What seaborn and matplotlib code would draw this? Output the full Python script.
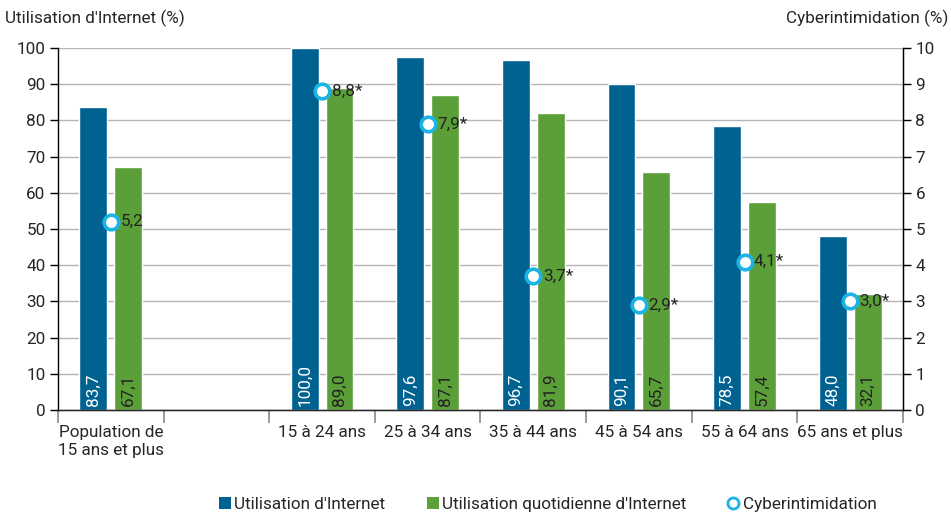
import numpy as np
import pandas as pd
import matplotlib
matplotlib.use("Agg")
import matplotlib.pyplot as plt
from matplotlib.lines import Line2D
from matplotlib.patches import Patch
import seaborn as sns

# données
categories = ["Population de\n15 ans et plus", " ", "15 à 24 ans", "25 à 34 ans",
              "35 à 44 ans", "45 à 54 ans", "55 à 64 ans", "65 ans et plus"]
internet = [83.7, np.nan, 100.0, 97.6, 96.7, 90.1, 78.5, 48.0]
quotidien = [67.1, np.nan, 89.0, 87.1, 81.9, 65.7, 57.4, 32.1]
cyber = [5.2, np.nan, 8.8, 7.9, 3.7, 2.9, 4.1, 3.0]
cyber_labels = ["5,2", "", "8,8*", "7,9*", "3,7*", "2,9*", "4,1*", "3,0*"]

BLEU = "#006291"
VERT = "#5b9f38"
CYAN = "#1cb4e6"
SERIES = ["Utilisation d'Internet", "Utilisation quotidienne d'Internet"]
FS = 12.3

sns.set_style("white")
plt.rcParams['font.family'] = ['Roboto', 'DejaVu Sans']

df = pd.DataFrame({
    'cat': categories * 2,
    'serie': [SERIES[0]] * len(categories) + [SERIES[1]] * len(categories),
    'val': internet + quotidien,
})

fig = plt.figure(figsize=(9.51, 5.15), dpi=100)
ax = fig.add_axes([0.061, 0.204, 0.8885, 0.703])

sns.barplot(data=df, x='cat', y='val', hue='serie', order=categories,
            hue_order=SERIES, palette=[BLEU, VERT], width=0.66, gap=0.2,
            saturation=1, legend=False, ax=ax, zorder=2)

# valeurs dans les barres
for cont, col in zip(ax.containers, ['white', '#222222']):
    for p in cont.patches:
        h = p.get_height()
        if np.isnan(h) or h == 0:
            continue
        ax.text(p.get_x() + p.get_width() / 2, 1.2, f"{h:.1f}".replace('.', ','),
                rotation=90, ha='center', va='bottom', color=col, fontsize=FS,
                zorder=4)

ax.set_ylim(0, 100)
ax.set_xlim(-0.5, len(categories) - 0.5)
ax.set_yticks(range(0, 101, 10))
ax.set_xlabel("")
ax.set_ylabel("")
ax.yaxis.grid(True, color='#b5b5b5', linewidth=1, zorder=0)
ax.set_axisbelow(True)
ax.tick_params(axis='y', labelsize=FS, length=6, width=1, color='black',
               direction='out', left=True, pad=3)
ax.tick_params(axis='x', which='major', labelsize=FS, length=0, pad=11)
ax.set_xticks(np.arange(-0.5, len(categories), 1), minor=True)
ax.tick_params(axis='x', which='minor', length=9, width=1.2, color='#888888',
               bottom=True, direction='out')
ax.spines['top'].set_visible(False)
for s in ['left', 'right', 'bottom']:
    ax.spines[s].set_color('black')
    ax.spines[s].set_linewidth(1)

# axe de droite : cyberintimidation
ax2 = ax.twinx()
x_pos = np.arange(len(categories))
sns.scatterplot(x=x_pos, y=cyber, ax=ax2, s=110, marker='o', facecolor='white',
                edgecolor=CYAN, linewidth=2.6, zorder=5, legend=False)
for xi, yi, lab in zip(x_pos, cyber, cyber_labels):
    if np.isnan(yi):
        continue
    ax2.text(xi + 0.09, yi, lab, ha='left', va='center', fontsize=FS,
             color='#222222', zorder=6)
ax2.set_ylim(0, 10)
ax2.set_yticks(range(0, 11))
ax2.tick_params(axis='y', labelsize=FS, length=6, width=1, color='black',
                direction='out', right=True, pad=3)
ax2.spines['top'].set_visible(False)
ax2.spines['left'].set_visible(False)
ax2.spines['right'].set_color('black')
ax2.set_ylabel("")

fig.text(0.005, 0.965, "Utilisation d'Internet (%)", fontsize=FS, ha='left', va='center')
fig.text(0.997, 0.965, "Cyberintimidation (%)", fontsize=FS, ha='right', va='center')

handles = [
    Patch(facecolor=BLEU, edgecolor='none'),
    Patch(facecolor=VERT, edgecolor='none'),
    Line2D([], [], marker='o', linestyle='none', markerfacecolor='white',
           markeredgecolor=CYAN, markeredgewidth=2, markersize=8),
]
fig.legend(handles, [SERIES[0], SERIES[1], "Cyberintimidation"], loc='lower center',
           bbox_to_anchor=(0.576, -0.024), ncol=3, frameon=False, fontsize=FS,
           handlelength=0.7, handleheight=0.7, handletextpad=0.2, columnspacing=2.4)

fig.savefig("out.png", dpi=100)
